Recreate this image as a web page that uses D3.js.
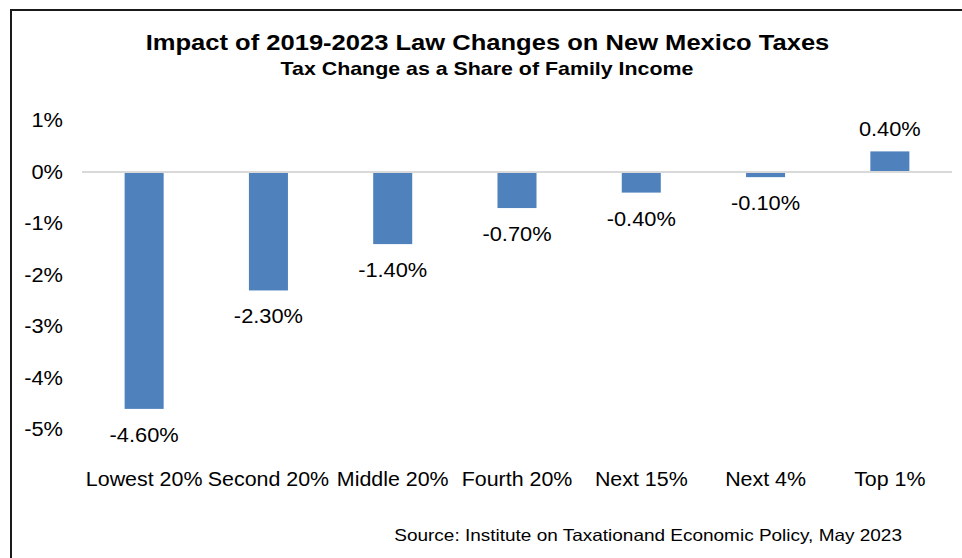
<!DOCTYPE html>
<html>
<head>
<meta charset="utf-8">
<script src="https://cdn.jsdelivr.net/npm/d3@7"></script>
<style>
  html, body { margin: 0; padding: 0; background: #fff; }
  svg { display: block; font-family: Arial, "Liberation Sans", sans-serif; }
</style>
</head>
<body>
<svg id="chart" width="962" height="558"></svg>
<script>
// Income groups and the tax change as a share of family income (percent)
const categories = ["Lowest 20%", "Second 20%", "Middle 20%", "Fourth 20%", "Next 15%", "Next 4%", "Top 1%"];
const values = [-4.6, -2.3, -1.4, -0.7, -0.4, -0.1, 0.4];
const yTicks = [1, 0, -1, -2, -3, -4, -5];
const titleText = "Impact of 2019-2023 Law Changes on New Mexico Taxes";
const subtitleText = "Tax Change as a Share of Family Income";
const sourceText = "Source: Institute on Taxationand Economic Policy, May 2023";

const svg = d3.select("#chart");

// Widen glyphs horizontally (the chart's lettering is set slightly wide)
function widen(sel, k) {
  sel.each(function () {
    const w = this.getComputedTextLength();
    d3.select(this)
      .attr("textLength", w * k)
      .attr("lengthAdjust", "spacingAndGlyphs");
  });
}

// Outer frame (runs off the right and bottom edges)
svg.append("rect")
  .attr("x", 11).attr("y", 10)
  .attr("width", 1000).attr("height", 600)
  .attr("fill", "none")
  .attr("stroke", "#1a1a1a")
  .attr("stroke-width", 2);

const x = d3.scaleBand()
  .domain(categories)
  .range([82, 952])
  .paddingInner(0.686)
  .paddingOuter(0.343);

const y = d3.scaleLinear()
  .domain([-5, 1])
  .range([429.5, 120.5]);

// Titles
svg.append("text")
  .attr("x", 487.5).attr("y", 50)
  .attr("text-anchor", "middle")
  .attr("font-weight", "bold")
  .attr("font-size", 22.5)
  .attr("fill", "#000")
  .text(titleText)
  .call(widen, 1.135);

svg.append("text")
  .attr("x", 487).attr("y", 75)
  .attr("text-anchor", "middle")
  .attr("font-weight", "bold")
  .attr("font-size", 18.5)
  .attr("fill", "#000")
  .text(subtitleText)
  .call(widen, 1.155);

// Y axis labels (no axis line or ticks)
const yAxis = d3.axisLeft(y)
  .tickValues(yTicks)
  .tickSize(0)
  .tickPadding(0)
  .tickFormat(d => d + "%");

const yg = svg.append("g")
  .attr("transform", "translate(63,0)")
  .call(yAxis);
yg.select(".domain").remove();
yg.selectAll("text")
  .attr("font-size", 20)
  .attr("font-family", "Arial, 'Liberation Sans', sans-serif")
  .attr("fill", "#000")
  .call(widen, 1.09);

// Bars
svg.append("g")
  .selectAll("rect")
  .data(values)
  .join("rect")
  .attr("x", (d, i) => x(categories[i]))
  .attr("width", x.bandwidth())
  .attr("y", d => y(Math.max(0, d)))
  .attr("height", d => Math.abs(y(d) - y(0)))
  .attr("fill", "#4f81bd");

// Zero baseline
svg.append("line")
  .attr("x1", 82).attr("x2", 952)
  .attr("y1", y(0)).attr("y2", y(0))
  .attr("stroke", "#d9d9d9")
  .attr("stroke-width", 2);

// Value labels
svg.append("g")
  .selectAll("text")
  .data(values)
  .join("text")
  .attr("x", (d, i) => x(categories[i]) + x.bandwidth() / 2)
  .attr("y", d => d < 0 ? y(d) + 33 : y(d) - 15)
  .attr("text-anchor", "middle")
  .attr("font-size", 20)
  .attr("fill", "#000")
  .text(d => d.toFixed(2) + "%")
  .call(widen, 1.09);

// Category labels
const xAxis = d3.axisBottom(x).tickSize(0).tickPadding(0);
const xg = svg.append("g")
  .attr("transform", "translate(0,470)")
  .call(xAxis);
xg.select(".domain").remove();
xg.selectAll("text")
  .attr("dy", "0.8em")
  .attr("font-size", 20)
  .attr("font-family", "Arial, 'Liberation Sans', sans-serif")
  .attr("fill", "#000")
  .call(widen, 1.07);

// Source note
svg.append("text")
  .attr("x", 902).attr("y", 541)
  .attr("text-anchor", "end")
  .attr("font-size", 16.5)
  .attr("fill", "#000")
  .text(sourceText)
  .call(widen, 1.15);
</script>
</body>
</html>
